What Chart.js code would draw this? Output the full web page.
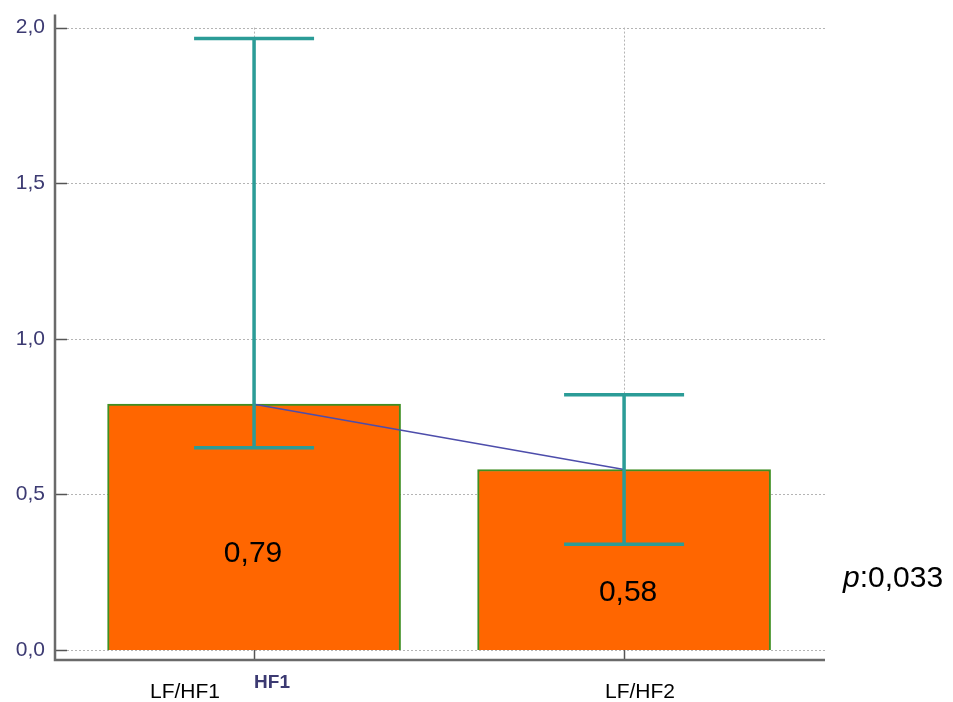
<!DOCTYPE html>
<html>
<head>
<meta charset="utf-8">
<script src="https://cdn.jsdelivr.net/npm/chart.js@4/dist/chart.umd.min.js"></script>
<style>
  html, body { margin: 0; padding: 0; background: #fff; }
  #wrap { width: 953px; height: 702px; }
</style>
</head>
<body>
<div id="wrap"><canvas id="c" width="953" height="702"></canvas></div>
<script>
// Group positions on the x axis and their names
const groups = [1, 2];
const groupNames = ['LF/HF1', 'LF/HF2'];
const axisTickLabels = ['HF1', ''];

// Median LF/HF ratio for each measurement and its spread
const medians = [0.79, 0.58];
const lowerValues = [0.65, 0.34];
const upperValues = [1.965, 0.82];
const valueLabels = ['0,79', '0,58'];

// y axis ticks
const yTicks = [0, 0.5, 1.0, 1.5, 2.0];
const pValueText = ['p', ':0,033'];

const fmt = v => v.toFixed(1).replace('.', ',');

const barPoints = groups.map((g, i) => ({ x: g, y: medians[i] }));

// Custom drawing: axes, dotted grid, error bars, labels
const decor = {
  id: 'decor',
  beforeDatasetsDraw(chart) {
    const { ctx, chartArea: a, scales: { x, y } } = chart;
    ctx.save();
    // dotted horizontal grid lines
    ctx.strokeStyle = '#b4b4b4';
    ctx.lineWidth = 1;
    ctx.setLineDash([2, 2]);
    yTicks.forEach(v => {
      const py = Math.round(y.getPixelForValue(v)) + 0.5;
      ctx.beginPath();
      ctx.moveTo(a.left + 12, py);
      ctx.lineTo(a.right, py);
      ctx.stroke();
    });
    // dotted vertical grid lines at group positions
    groups.forEach(g => {
      const px = Math.round(x.getPixelForValue(g)) + 0.5;
      ctx.beginPath();
      ctx.moveTo(px, y.getPixelForValue(yTicks[yTicks.length - 1]));
      ctx.lineTo(px, y.getPixelForValue(0));
      ctx.stroke();
    });
    ctx.setLineDash([]);
    // y tick marks (pointing inward)
    ctx.strokeStyle = '#555';
    ctx.lineWidth = 1.5;
    yTicks.forEach(v => {
      const py = Math.round(y.getPixelForValue(v)) + 0.5;
      ctx.beginPath();
      ctx.moveTo(a.left, py);
      ctx.lineTo(a.left + 12, py);
      ctx.stroke();
    });
    // x tick marks
    groups.forEach(g => {
      const px = Math.round(x.getPixelForValue(g)) + 0.5;
      ctx.beginPath();
      ctx.moveTo(px, a.bottom);
      ctx.lineTo(px, a.bottom - 10);
      ctx.stroke();
    });
    // axis lines (the vertical one runs a little above the plot area)
    ctx.strokeStyle = '#6a6a6a';
    ctx.lineWidth = 2.5;
    ctx.beginPath();
    ctx.moveTo(a.left, a.top - 8);
    ctx.lineTo(a.left, a.bottom);
    ctx.lineTo(a.right, a.bottom);
    ctx.stroke();
    ctx.restore();
  },
  afterDatasetsDraw(chart) {
    const { ctx, scales: { x, y } } = chart;
    ctx.save();
    // error bars
    ctx.strokeStyle = '#2b9c97';
    ctx.lineWidth = 3.5;
    ctx.lineCap = 'butt';
    groups.forEach((g, i) => {
      const px = x.getPixelForValue(g);
      const lo = y.getPixelForValue(lowerValues[i]);
      const hi = y.getPixelForValue(upperValues[i]);
      ctx.beginPath();
      ctx.moveTo(px, lo);
      ctx.lineTo(px, hi);
      ctx.moveTo(px - 60, hi);
      ctx.lineTo(px + 60, hi);
      ctx.moveTo(px - 60, lo);
      ctx.lineTo(px + 60, lo);
      ctx.stroke();
    });
    // value labels inside bars
    ctx.fillStyle = '#000';
    ctx.font = '30px "Liberation Sans", Arial, sans-serif';
    ctx.textAlign = 'center';
    ctx.textBaseline = 'middle';
    const offs = [27, 33];
    groups.forEach((g, i) => {
      const px = x.getPixelForValue(g);
      const mid = (y.getPixelForValue(medians[i]) + y.getPixelForValue(0)) / 2;
      ctx.fillText(valueLabels[i], px + (i === 0 ? -1 : 4), mid + offs[i]);
    });
    // group names below the axis
    ctx.font = '21px "Liberation Sans", Arial, sans-serif';
    ctx.fillText(groupNames[0], 185, 692);
    ctx.fillText(groupNames[1], 640, 692);
    // p value
    ctx.textAlign = 'left';
    ctx.font = 'italic 30px "Liberation Sans", Arial, sans-serif';
    ctx.fillText(pValueText[0], 843, 579);
    const w = ctx.measureText(pValueText[0]).width;
    ctx.font = '30px "Liberation Sans", Arial, sans-serif';
    ctx.fillText(pValueText[1], 843 + w, 579);
    ctx.restore();
  }
};

new Chart(document.getElementById('c'), {
  data: {
    datasets: [
      {
        type: 'line',
        data: barPoints,
        borderColor: '#4d4dab',
        borderWidth: 1.5,
        pointRadius: 0,
        fill: false,
        order: 1
      },
      {
        type: 'bar',
        data: barPoints,
        backgroundColor: '#ff6600',
        borderColor: '#3f8f22',
        borderWidth: 2,
        barThickness: 293,
        order: 2
      }
    ]
  },
  plugins: [decor],
  options: {
    responsive: false,
    animation: false,
    events: [],
    layout: { padding: { top: 10, right: 128, bottom: 0, left: 0 } },
    plugins: { legend: { display: false }, tooltip: { enabled: false } },
    scales: {
      x: {
        type: 'linear',
        min: 0.462,
        max: 2.543,
        offset: false,
        grid: { display: false, drawTicks: false, offset: false },
        border: { display: false },
        afterBuildTicks: s => { s.ticks = groups.map(v => ({ value: v })); },
        ticks: {
          autoSkip: false,
          align: 'start',
          padding: 11,
          color: '#3c3a72',
          font: { family: '"Liberation Sans", Arial, sans-serif', size: 19, weight: 'bold' },
          callback: (v, i) => axisTickLabels[i]
        },
        afterFit: s => { s.height = 42; }
      },
      y: {
        type: 'linear',
        min: -0.032,
        max: 2.016,
        grid: { display: false, drawTicks: false },
        border: { display: false },
        afterBuildTicks: s => { s.ticks = yTicks.map(v => ({ value: v })); },
        ticks: {
          padding: 10,
          color: '#3c3a72',
          font: { family: '"Liberation Sans", Arial, sans-serif', size: 21 },
          callback: v => fmt(v)
        },
        afterFit: s => { s.width = 55; }
      }
    }
  }
});
</script>
</body>
</html>
